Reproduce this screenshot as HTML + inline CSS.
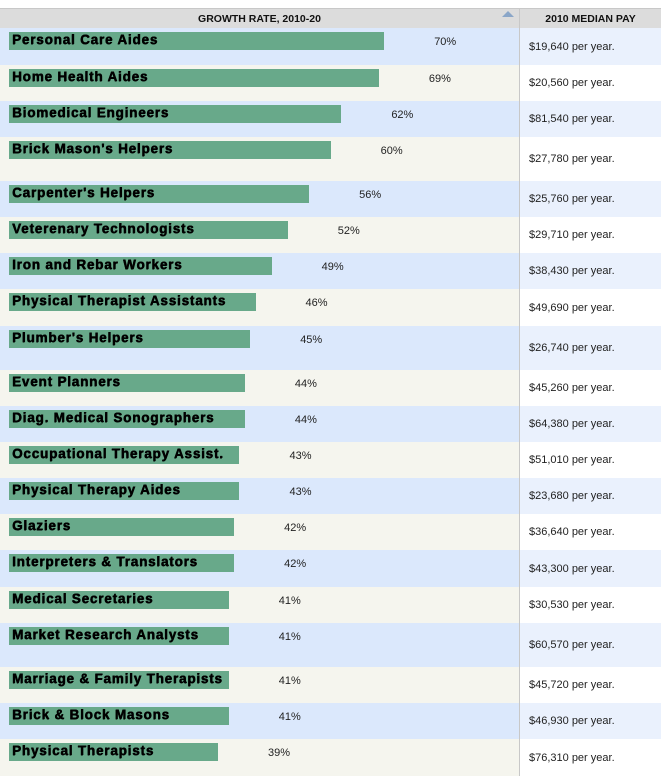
<!DOCTYPE html>
<html><head><meta charset="utf-8"><style>
body{margin:0;width:661px;height:776px;background:#fff;position:relative;overflow:hidden;font-family:"Liberation Sans",sans-serif}
.abs{position:absolute}
.hdr{top:8px;height:20px;background:#dcdcdc;border-top:1px solid #c8c8c8;font-weight:bold;font-size:10.5px;line-height:20px;text-align:center;color:#111;box-sizing:border-box}
.lbl{font-weight:bold;font-size:13.5px;letter-spacing:0.8px;color:#000;white-space:nowrap;line-height:16px;text-shadow:0.5px 0 0 #000,0 0.3px 0 #000}
.pct,.pay{font-size:11px;color:#222;white-space:nowrap;line-height:13px}
</style></head><body>
<div class="abs hdr" style="left:0;width:519px">GROWTH RATE, 2010-20</div>
<div class="abs" style="left:502px;top:11px;width:0;height:0;border-left:6px solid transparent;border-right:6px solid transparent;border-bottom:6px solid #8aa6c8"></div>
<div class="abs hdr" style="left:520px;width:141px">2010 MEDIAN PAY</div>
<div class="abs" style="left:519px;top:8px;width:1px;height:768px;background:#c8c8c8"></div>
<div id="rows"></div>
<script>
const categories=["Personal Care Aides","Home Health Aides","Biomedical Engineers","Brick Mason's Helpers","Carpenter's Helpers","Veterenary Technologists","Iron and Rebar Workers","Physical Therapist Assistants","Plumber's Helpers","Event Planners","Diag. Medical Sonographers","Occupational Therapy Assist.","Physical Therapy Aides","Glaziers","Interpreters & Translators","Medical Secretaries","Market Research Analysts","Marriage & Family Therapists","Brick & Block Masons","Physical Therapists"];
const growth=[70,69,62,60,56,52,49,46,45,44,44,43,43,42,42,41,41,41,41,39];
const pay=["$19,640","$20,560","$81,540","$27,780","$25,760","$29,710","$38,430","$49,690","$26,740","$45,260","$64,380","$51,010","$23,680","$36,640","$43,300","$30,530","$60,570","$45,720","$46,930","$76,310"];
const rowEdges=[28,65,101,137,181,217,253,289,326,370,406,442,478,514,550,587,623,667,703,739,776];
const x=v=>9+v*5.36;
const root=document.getElementById('rows');
categories.forEach((c,i)=>{
 const top=rowEdges[i],h=rowEdges[i+1]-top,blue=i%2===0;
 const bg=document.createElement('div');bg.className='abs';
 
 
 bg.style.cssText=`left:0;top:${top}px;width:519px;height:${h}px;background:${blue?'#dbe8fc':'#f5f5ee'}`;root.appendChild(bg);
 const bg2=document.createElement('div');bg2.className='abs';
 
 
 bg2.style.cssText=`left:520px;top:${top}px;width:141px;height:${h}px;background:${blue?'#eaf1fd':'#fff'}`;root.appendChild(bg2);
 const bar=document.createElement('div');bar.className='abs';
 
 
 bar.style.cssText=`left:9px;top:${top+4}px;width:${x(growth[i])-9}px;height:18px;background:#68a98a`;root.appendChild(bar);
 const l=document.createElement('div');l.className='abs lbl';
 
 
 l.style.cssText=`left:12px;top:${top+4}px`;l.textContent=c;root.appendChild(l);
 const p=document.createElement('div');p.className='abs pct';
 
 
 p.style.cssText=`left:${x(growth[i])+50}px;top:${top+8}px`;p.textContent=growth[i]+'%';root.appendChild(p);
 const q=document.createElement('div');q.className='abs pay';
 
 
 q.style.cssText=`left:529px;top:${top+h/2-6}px`;q.textContent=pay[i]+' per year.';root.appendChild(q);
});
</script>
</body></html>
